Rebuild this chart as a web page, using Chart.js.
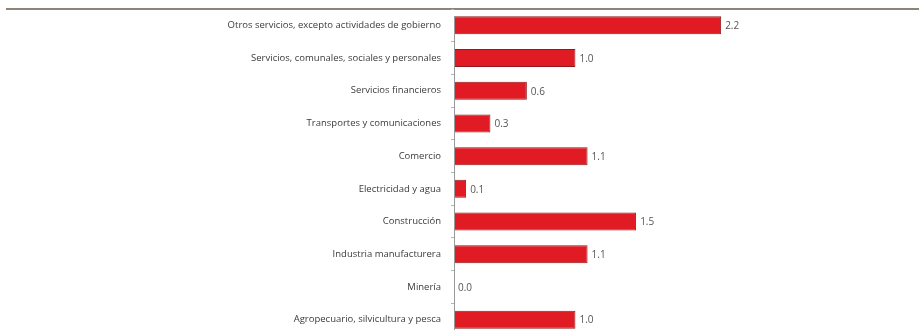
<!DOCTYPE html>
<html>
<head>
    <title>Crecimiento por sector</title>
    <script src="https://cdn.jsdelivr.net/npm/chart.js"></script>
    <style>
        html, body { margin: 0; padding: 0; background: #fff; overflow: hidden; }
        #wrap { position: relative; width: 919px; height: 330px; overflow: hidden; }
        #rule { position: absolute; left: 6px; right: 0; top: 8px; border-top: 2px solid #8c8478; }
        #chart { position: absolute; left: 0; top: 0; }
    </style>
</head>
<body>
<div id="wrap">
    <div id="rule"></div>
    <canvas id="chart" width="919" height="336"></canvas>
</div>

<script>
    const sectores = [
        'Otros servicios, excepto actividades de gobierno',
        'Servicios, comunales, sociales y personales',
        'Servicios financieros',
        'Transportes y comunicaciones',
        'Comercio',
        'Electricidad y agua',
        'Construcción',
        'Industria manufacturera',
        'Minería',
        'Agropecuario, silvicultura y pesca'
    ];
    const valores = [2.2, 1.0, 0.6, 0.3, 1.1, 0.1, 1.5, 1.1, 0.0, 1.0];

    // axis line starting at the top of the first bar, plus value labels
    const etiquetas = {
        id: 'etiquetas',
        afterDatasetsDraw(chart) {
            const ctx = chart.ctx;
            const meta = chart.getDatasetMeta(0);
            const area = chart.chartArea;
            const first = meta.data[0];
            ctx.save();
            ctx.strokeStyle = '#9a9a9a';
            ctx.lineWidth = 1;
            ctx.beginPath();
            ctx.moveTo(area.left + 0.5, first.y - first.height / 2);
            ctx.lineTo(area.left + 0.5, area.bottom);
            ctx.stroke();

            ctx.font = '10px "Open Sans"';
            ctx.fillStyle = '#555';
            ctx.textBaseline = 'middle';
            ctx.textAlign = 'left';
            meta.data.forEach((bar, i) => {
                ctx.fillText(valores[i].toFixed(1), bar.x + 4, bar.y + 1);
            });
            ctx.restore();
        }
    };

    new Chart(document.getElementById('chart'), {
        type: 'bar',
        data: {
            labels: sectores,
            datasets: [{
                data: valores,
                backgroundColor: '#e01b24',
                borderColor: '#8f1a1d',
                borderWidth: 1,
                borderSkipped: false,
                barPercentage: 0.55,
                categoryPercentage: 1
            }]
        },
        options: {
            indexAxis: 'y',
            responsive: false,
            animation: false,
            layout: { padding: { top: 9, right: 40, bottom: 0, left: 0 } },
            plugins: { legend: { display: false }, tooltip: { enabled: false } },
            scales: {
                x: { display: false, min: 0, max: 3.5 },
                y: {
                    afterFit(scale) {
                        scale.width = 454;
                        scale.paddingTop = 0;
                        scale.paddingBottom = 0;
                    },
                    grid: { offset: true, drawOnChartArea: false, tickLength: 3, color: '#b5b5b5' },
                    border: { display: false },
                    ticks: { padding: 10, color: '#3a3a3a', font: { family: '"Open Sans"', size: 9.5 } }
                }
            }
        },
        plugins: [etiquetas]
    });
</script>
</body>
</html>
